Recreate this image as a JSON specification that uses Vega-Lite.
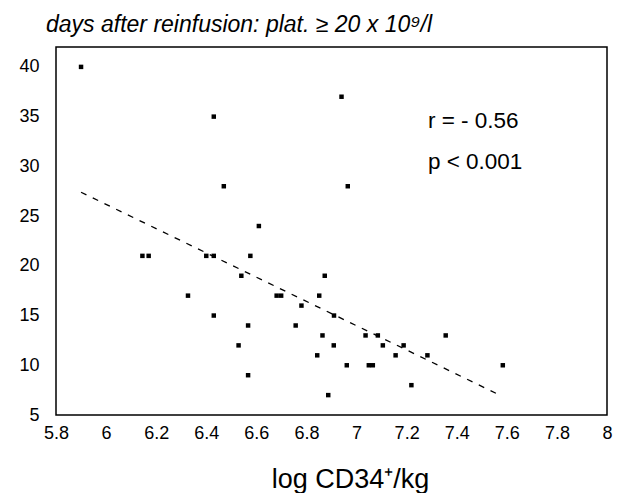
{
  "$schema": "https://vega.github.io/schema/vega-lite/v6.json",
  "width": 551,
  "height": 368,
  "autosize": "none",
  "padding": {"left": 56, "top": 47, "right": 10, "bottom": 78},
  "background": "white",
  "config": {
    "font": "Liberation Sans",
    "view": {"stroke": "black", "strokeWidth": 1.5},
    "axis": {"labelColor": "black", "titleColor": "black", "grid": false, "domain": false, "ticks": false, "labelFlush": false, "labelOverlap": false}
  },
  "title": {
    "text": "days after reinfusion: plat. ≥ 20 x 10⁹/l",
    "anchor": "start",
    "frame": "group",
    "fontStyle": "italic",
    "fontWeight": "normal",
    "fontSize": 23,
    "color": "black",
    "dx": -10,
    "offset": 10
  },
  "datasets": {
    "points": [
      {"cd34": 5.90, "days": 40},
      {"cd34": 6.43, "days": 35},
      {"cd34": 6.47, "days": 28},
      {"cd34": 6.61, "days": 24},
      {"cd34": 6.145, "days": 21},
      {"cd34": 6.17, "days": 21},
      {"cd34": 6.40, "days": 21},
      {"cd34": 6.43, "days": 21},
      {"cd34": 6.576, "days": 21},
      {"cd34": 6.94, "days": 37},
      {"cd34": 6.965, "days": 28},
      {"cd34": 6.54, "days": 19},
      {"cd34": 6.873, "days": 19},
      {"cd34": 6.327, "days": 17},
      {"cd34": 6.681, "days": 17},
      {"cd34": 6.699, "days": 17},
      {"cd34": 6.851, "days": 17},
      {"cd34": 6.78, "days": 16},
      {"cd34": 6.91, "days": 15},
      {"cd34": 6.43, "days": 15},
      {"cd34": 6.567, "days": 14},
      {"cd34": 6.757, "days": 14},
      {"cd34": 6.864, "days": 13},
      {"cd34": 7.036, "days": 13},
      {"cd34": 7.085, "days": 13},
      {"cd34": 7.356, "days": 13},
      {"cd34": 6.529, "days": 12},
      {"cd34": 6.909, "days": 12},
      {"cd34": 7.105, "days": 12},
      {"cd34": 7.188, "days": 12},
      {"cd34": 6.843, "days": 11},
      {"cd34": 7.156, "days": 11},
      {"cd34": 7.283, "days": 11},
      {"cd34": 6.961, "days": 10},
      {"cd34": 7.049, "days": 10},
      {"cd34": 7.065, "days": 10},
      {"cd34": 7.584, "days": 10},
      {"cd34": 6.567, "days": 9},
      {"cd34": 7.219, "days": 8},
      {"cd34": 6.887, "days": 7}
    ],
    "fit": [
      {"cd34": 5.90, "days": 27.4},
      {"cd34": 7.58, "days": 6.9}
    ],
    "notes": [
      {"cd34": 7.285, "days": 34.6, "label": "r = - 0.56"},
      {"cd34": 7.285, "days": 30.4, "label": "p < 0.001"}
    ]
  },
  "encoding": {
    "x": {
      "field": "cd34",
      "type": "quantitative",
      "scale": {"domain": [5.8, 8], "nice": false, "zero": false},
      "axis": {
        "values": [5.8, 6, 6.2, 6.4, 6.6, 6.8, 7, 7.2, 7.4, 7.6, 7.8, 8],
        "format": "~g",
        "labelFontSize": 18,
        "labelPadding": 9,
        "title": "log CD34⁺/kg",
        "titleFontSize": 27,
        "titleFontWeight": "normal",
        "titlePadding": 24,
        "titleX": 294
      }
    },
    "y": {
      "field": "days",
      "type": "quantitative",
      "scale": {"domain": [5, 42], "nice": false, "zero": false},
      "axis": {
        "values": [5, 10, 15, 20, 25, 30, 35, 40],
        "labelFontSize": 18,
        "labelPadding": 17,
        "title": null
      }
    }
  },
  "layer": [
    {
      "data": {"name": "fit"},
      "mark": {"type": "line", "color": "black", "strokeWidth": 1.3, "strokeDash": [6, 7]}
    },
    {
      "data": {"name": "points"},
      "mark": {"type": "square", "color": "black", "filled": true, "opacity": 1, "size": 20}
    },
    {
      "data": {"name": "notes"},
      "mark": {"type": "text", "align": "left", "baseline": "middle", "fontSize": 22.5, "color": "black"},
      "encoding": {"text": {"field": "label"}}
    }
  ]
}
